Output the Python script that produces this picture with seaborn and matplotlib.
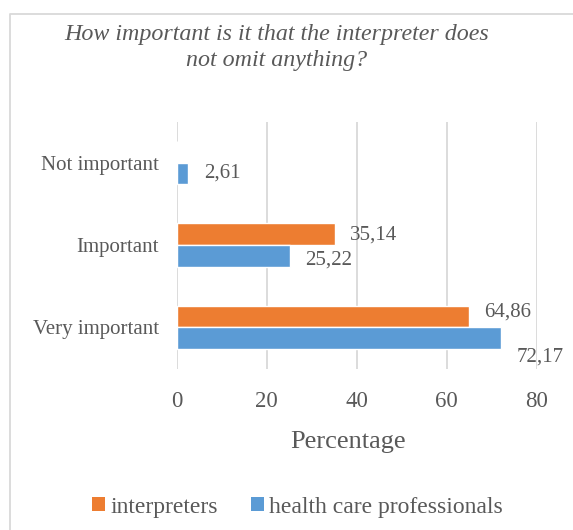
import matplotlib
matplotlib.use("Agg")
import matplotlib.pyplot as plt
from matplotlib.lines import Line2D
from matplotlib.patches import Patch
import seaborn as sns
import pandas as pd

# Survey responses (percent of respondents)
categories = ["Not important", "Important", "Very important"]
series = ["interpreters", "health care professionals"]
interpreters = [0.0, 35.14, 64.86]
health_care_professionals = [2.61, 25.22, 72.17]
x_ticks = [0, 20, 40, 60, 80]

title = "How important is it that the interpreter does\nnot omit anything?"
x_label = "Percentage"

colors = {"interpreters": "#ED7D31", "health care professionals": "#5B9BD5"}
text_color = "#595959"
grid_color = "#D9D9D9"

df = pd.DataFrame({
    "category": categories * 2,
    "group": [series[0]] * len(categories) + [series[1]] * len(categories),
    "value": interpreters + health_care_professionals,
})

sns.set_theme(style="white")
plt.rcParams["font.family"] = ["Liberation Serif", "DejaVu Serif"]

fig = plt.figure(figsize=(5.73, 5.30), dpi=100)
ax = fig.add_axes([0.3084, 0.3047, 0.6283, 0.4660])

sns.barplot(
    data=df, x="value", y="category", hue="group",
    order=categories, hue_order=series, palette=colors,
    orient="h", width=0.527, gap=0, saturation=1, legend=False,
    ax=ax,
)

ax.set_xlim(0, 80)
ax.set_xticks(x_ticks)
ax.set_xticklabels([str(t) for t in x_ticks])
ax.grid(axis="x", color=grid_color, linewidth=1.3)
ax.grid(axis="y", visible=False)
ax.set_axisbelow(True)
for s in ax.spines.values():
    s.set_visible(False)
ax.tick_params(axis="x", length=0, pad=16.5, labelsize=16.5, labelcolor=text_color)
ax.tick_params(axis="y", length=0, pad=13, labelsize=15, labelcolor=text_color)
ax.set_ylabel("")
ax.set_xlabel(x_label, fontsize=19, color=text_color)
ax.xaxis.set_label_coords(0.476, -0.298)
ax.xaxis.label.set_va("center")

# value labels; small vertical nudges (pixels, +down) keep them from colliding
nudge = {
    ("interpreters", "Important"): 1,
    ("health care professionals", "Important"): 4,
    ("interpreters", "Very important"): -4,
    ("health care professionals", "Very important"): 19,
}
for grp, container in zip(series, ax.containers):
    for cat, bar in zip(categories, container):
        v = bar.get_width()
        if v <= 0:
            continue
        yc = bar.get_y() + bar.get_height() / 2
        dy = nudge.get((grp, cat), 0) * 72 / 100
        ax.annotate(
            f"{v:.2f}".replace(".", ","), xy=(v, yc),
            xytext=(11, -dy), textcoords="offset points",
            ha="left", va="center", fontsize=15, color=text_color,
            annotation_clip=False,
        )

fig.text(0.4834, 0.910, title, ha="center", va="center", fontsize=17.3,
         style="italic", color=text_color, linespacing=1.3)

handles = [Patch(facecolor=colors[s], edgecolor="none") for s in series]
fig.legend(
    handles, series, loc="center", bbox_to_anchor=(0.519, 0.043), ncol=2,
    frameon=False, fontsize=17, labelcolor=text_color,
    handlelength=0.55, handleheight=0.55, handletextpad=0.22, columnspacing=1.4,
)

# chart area outline
fig.add_artist(Line2D([0.0175, 0.0175, 1.0], [0.0, 0.9745, 0.9745],
                      transform=fig.transFigure, color=grid_color, linewidth=1.3))

fig.savefig("out.png", dpi=100)
